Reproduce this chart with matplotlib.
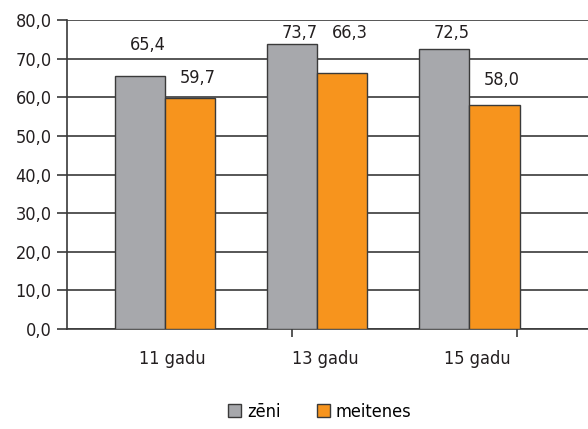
import numpy as np
import matplotlib.pyplot as plt

plt.rcParams['font.family'] = ['DejaVu Sans']
plt.rcParams['font.stretch'] = 'condensed'

# data
categories = ['11 gadu', '13 gadu', '15 gadu']
zeni = [65.4, 73.7, 72.5]
meitenes = [59.7, 66.3, 58.0]
yticks = [0, 10, 20, 30, 40, 50, 60, 70, 80]

gray = '#A7A8AC'
orange = '#F7941D'
edge = '#3a3a3a'

fig = plt.figure(figsize=(5.88, 4.29), dpi=100)
ax = fig.add_axes([67 / 588, 100 / 429, 1 - 67 / 588, 309 / 429])

x = np.arange(len(categories))
w = 0.33
b1 = ax.bar(x - w / 2, zeni, w, color=gray, edgecolor=edge, linewidth=1, zorder=3, label='zēni')
b2 = ax.bar(x + w / 2, meitenes, w, color=orange, edgecolor=edge, linewidth=1, zorder=3, label='meitenes')

# value labels (Excel places them a bit loosely)
label_y = [[73.6, 76.7, 76.7], [65.0, 76.7, 64.5]]
for i, (vals, off) in enumerate([(zeni, -w / 2), (meitenes, w / 2)]):
    for j, v in enumerate(vals):
        ax.text(j + off + 0.05, label_y[i][j], f'{v:.1f}'.replace('.', ','),
                ha='center', va='center', fontsize=13, color='#231f20')

ax.set_xlim(-0.645, 2.78)
ax.set_ylim(0, 80)
ax.set_yticks(yticks)
ax.set_yticklabels([f'{t:.1f}'.replace('.', ',') for t in yticks], fontsize=13, color='#231f20')
ax.yaxis.grid(True, color='#3a3a3a', linewidth=1.2, zorder=0)
ax.tick_params(axis='y', length=7, width=1.2, color='#3a3a3a', pad=4)

ax.set_xticks(x + 0.05)
ax.set_xticklabels(categories, fontsize=13, color='#231f20')
ax.tick_params(axis='x', length=0, pad=15)
ax.set_xticks([0.835, 2.31], minor=True)
ax.tick_params(axis='x', which='minor', length=6, width=1.2, color='#3a3a3a')

for s in ['top', 'right']:
    ax.spines[s].set_visible(False)
ax.spines['left'].set_linewidth(1.2)
ax.spines['left'].set_color('#3a3a3a')
ax.spines['bottom'].set_linewidth(1.2)
ax.spines['bottom'].set_color('#3a3a3a')

fig.legend(handles=[b1, b2], loc='center', bbox_to_anchor=(320 / 588, 1 - 412 / 429),
           ncol=2, frameon=False, fontsize=13, handlelength=0.7, handleheight=0.7,
           handletextpad=0.35, columnspacing=2.0)

fig.savefig('out.png', dpi=100)
